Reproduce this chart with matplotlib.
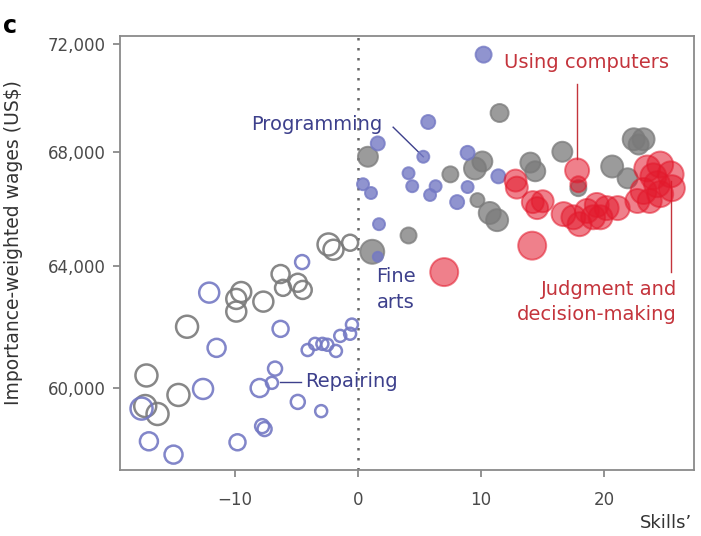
import numpy as np
import matplotlib
matplotlib.use('Agg')
import matplotlib.pyplot as plt
from matplotlib.ticker import FixedLocator, FuncFormatter, NullLocator

# skill exposure (x), importance-weighted wage (y), employment weight (marker size)
grey_x = [-17.2, -17.3, -16.3, -14.6, -13.9, -9.5, -9.9, -9.9, -7.7, -6.3, -6.1, -4.9, -4.5,
          -2.4, -2.0, -0.65,
          1.15, 0.8, 11.5, 4.1, 7.5, 10.1, 9.5, 9.7, 10.7, 11.3, 14.0, 14.4, 16.6, 17.9,
          20.65, 22.4, 23.2, 22.8, 21.9]
grey_y = [60400, 59430, 59180, 59780, 61980, 63130, 62900, 62480, 62810, 63735, 63270, 63440, 63200,
          64740, 64560, 64800,
          64490, 67820, 69410, 65050, 67190, 67650, 67400, 66280, 65830, 65580, 67610, 67300, 68000, 66700,
          67470, 68450, 68450, 68260, 67050]
grey_w = [11, 11, 11, 11, 11, 10, 10, 10, 10, 9, 8, 9, 9,
          11, 10, 8,
          12, 10, 9, 8, 8, 10, 11, 7, 11, 11, 10, 10, 10, 8,
          11, 11, 11, 10, 10]

blue_x = [-17.6, -12.1, -11.5, -12.6, -17.0, -15.0, -9.8, -8.0, -6.75, -7.0, -4.9, -3.0,
          -7.8, -7.6, -6.3, -4.55, -4.1, -3.5, -2.9, -2.5, -1.8, -1.45, -0.65, -0.5,
          10.2, 5.7, 1.6, 5.3, 8.9, 0.4, 1.05, 4.1, 4.4, 6.3, 5.85, 8.9, 8.05, 11.4, 1.7, 1.6]
blue_y = [59350, 63110, 61290, 59970, 58330, 57920, 58300, 60000, 60620, 60165, 59560, 59270,
          58800, 58710, 61910, 64140, 61220, 61420, 61420, 61390, 61190, 61680, 61750, 62050,
          71590, 69080, 68300, 67820, 67960, 66840, 66530, 67230, 66770, 66770, 66460, 66740, 66210,
          67120, 65440, 64320]
blue_w = [11, 10, 9, 10, 9, 9, 8, 9, 7, 6, 7, 6,
          7, 7, 8, 7, 6, 6, 6, 6, 6, 6, 6, 6,
          8, 7, 7, 6, 7, 6, 6, 6, 6, 6, 6, 6, 7, 7, 6, 5]

red_x = [7.0, 12.8, 12.9, 17.8, 17.9, 14.2, 15.0, 14.55, 14.15,
         16.7, 17.5, 18.0, 18.6, 19.4, 20.2, 21.1, 19.7, 19.1,
         23.5, 24.55, 25.4, 25.5, 24.3, 23.2, 22.7, 23.7, 24.55, 24.0]
red_y = [63800, 66970, 66720, 67330, 66840, 66210, 66240, 66000, 64700,
         65790, 65680, 65440, 65900, 66110, 66000, 66000, 65680, 65680,
         67400, 67540, 67190, 66700, 66840, 66600, 66250, 66250, 66490, 67120]
red_w = [14, 11, 11, 12, 8, 11, 11, 11, 14,
         12, 12, 12, 12, 12, 12, 12, 12, 12,
         13, 13, 13, 13, 13, 13, 12, 12, 13, 13]

y_ticks = [60000, 64000, 68000, 72000]
x_ticks = [-10, 0, 10, 20]

GREY = '#7a7a7a'
BLUE = '#7479c4'
RED = '#e3192c'
BLUE_TXT = '#3d408c'
RED_TXT = '#c4343c'


def sizes(w):
    return (np.asarray(w) * 1.44) ** 2


fig = plt.figure(figsize=(7.01, 5.36), dpi=100)
ax = fig.add_axes([120 / 701, 66 / 536, 574 / 701, 434 / 536])
ax.set_yscale('log')

for xs, ys, ws, col, face_alpha in [(grey_x, grey_y, grey_w, GREY, 0.75),
                                     (blue_x, blue_y, blue_w, BLUE, 0.8),
                                     (red_x, red_y, red_w, RED, 0.55)]:
    xs = np.asarray(xs)
    ys = np.asarray(ys)
    s = sizes(ws)
    neg = xs < 0
    # negative exposure -> hollow rings
    ax.scatter(xs[neg], ys[neg], s=s[neg], facecolors='none', edgecolors=col,
               linewidths=1.8, alpha=0.9, zorder=2)
    # positive exposure -> filled
    ax.scatter(xs[~neg], ys[~neg], s=s[~neg], color=col, alpha=face_alpha,
               edgecolors=col, linewidths=1.4, zorder=3)

ax.axvline(0, color='#666666', lw=1.8, ls=(0, (1, 3)), zorder=1)

ax.set_xlim(-19.35, 27.3)
ax.set_ylim(57450, 72300)
ax.yaxis.set_major_locator(FixedLocator(y_ticks))
ax.yaxis.set_minor_locator(NullLocator())
ax.yaxis.set_major_formatter(FuncFormatter(lambda v, p: f'{v:,.0f}'))
ax.set_xticks(x_ticks)
ax.xaxis.set_major_formatter(FuncFormatter(lambda v, p: f'{v:.0f}'.replace('-', '\u2212')))

for sp in ax.spines.values():
    sp.set_color('#8a8a8a')
    sp.set_linewidth(1.3)
ax.tick_params(axis='both', colors='#8a8a8a', labelcolor='#4a4a4a', labelsize=12,
               length=5, width=1.3, direction='out')
ax.tick_params(axis='y', pad=5)
ax.tick_params(axis='x', pad=10)

# annotations
fs = 14
ax.text(18.6, 71300, 'Using computers', color=RED_TXT, fontsize=fs, ha='center', va='center')
ax.plot([17.8, 17.8], [70500, 67750], color=RED_TXT, lw=1)
ax.text(-8.7, 69000, 'Programming', color=BLUE_TXT, fontsize=fs, ha='left', va='center')
ax.plot([2.85, 5.3], [68890, 67820], color=BLUE_TXT, lw=1)
ax.text(1.5, 63640, 'Fine', color=BLUE_TXT, fontsize=fs, ha='left', va='center')
ax.text(1.5, 62780, 'arts', color=BLUE_TXT, fontsize=fs, ha='left', va='center')
ax.text(-4.3, 60200, 'Repairing', color=BLUE_TXT, fontsize=fs, ha='left', va='center')
ax.plot([-6.35, -4.6], [60200, 60200], color=BLUE_TXT, lw=1)
ax.text(25.9, 63200, 'Judgment and', color=RED_TXT, fontsize=fs, ha='right', va='center')
ax.text(25.9, 62380, 'decision-making', color=RED_TXT, fontsize=fs, ha='right', va='center')
ax.plot([25.4, 25.4], [66950, 63800], color=RED_TXT, lw=1)

fig.text(14 / 701, 1 - 243 / 536, 'Importance-weighted wages (US$)', rotation=90,
         ha='center', va='center', fontsize=13.5, color='#333333')
fig.text(3 / 701, 1 - 26 / 536, 'c', fontsize=17, fontweight='bold', ha='left', va='center')
fig.text(640 / 701, 1 - 523 / 536, 'Skills\u2019', fontsize=13, color='#333333',
         ha='left', va='center')

fig.savefig('out.png', dpi=100)
